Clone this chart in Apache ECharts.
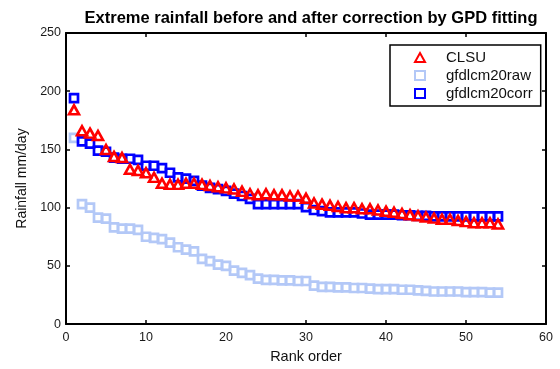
<!DOCTYPE html>
<html>
<head>
<meta charset="utf-8">
<script src="https://cdn.jsdelivr.net/npm/echarts@6/dist/echarts.min.js"></script>
<style>
  html, body { margin: 0; padding: 0; background: #fff; }
  #chart { width: 560px; height: 369px; }
</style>
</head>
<body>
<div id="chart"></div>
<script>
// Extreme daily rainfall, sorted by rank (1 = largest)
const ranks = Array.from({ length: 54 }, (_, i) => i + 1);

const clsu = [184, 166, 164, 162, 150, 144, 143, 133, 132, 130,
              126, 121, 120, 120, 121, 121, 120, 119, 118, 117,
              116, 114, 112, 111, 112, 111, 111, 110, 110, 108,
              104, 103, 102, 101, 100, 100, 99, 99, 98, 97,
              96, 95, 94, 93, 92, 91, 90, 90, 89, 88,
              87, 87, 87, 86];

const gfdlRaw = [160, 103, 100, 91.5, 90.5, 83, 82, 82, 81, 75,
                 74, 73, 70, 66, 64, 62.5, 56, 54, 51, 50,
                 46, 44, 42, 39, 38, 38, 37.5, 37.5, 37, 37,
                 33, 32, 32, 31.5, 31.5, 31, 31, 30.5, 30, 30,
                 30, 29.5, 29.5, 29, 28.5, 28, 28, 28, 28, 27.5,
                 27.5, 27.5, 27, 27];

const gfdlCorr = [194, 157, 155, 149, 148, 143, 142, 142, 141, 136,
                  136, 134, 130, 126, 125, 123, 119, 117, 116, 114.5,
                  112, 110, 107.5, 103, 103, 103, 103, 103, 103, 100.5,
                  98, 97, 96, 96, 96, 96, 95, 94, 94, 94,
                  94, 93.5, 93.5, 93, 93, 92.5, 92.5, 92.5, 92.5, 92.5,
                  92.5, 92.5, 92.5, 92.5];

const xTicks = [0, 10, 20, 30, 40, 50, 60];
const xTickMarks = [10, 30, 40, 50];
const yTicks = [0, 50, 100, 150, 200, 250];

const pairs = (ys) => ranks.map((r, i) => [r, ys[i]]);

const chart = echarts.init(document.getElementById('chart'), null, { renderer: 'canvas' });

const FONT = 'Liberation Sans, Arial, sans-serif';
const labelFont = { color: '#1a1a1a', fontSize: 12.5, fontFamily: FONT };
const frameLine = { show: true, onZero: false, lineStyle: { color: '#000', width: 2 } };
const inTick = { show: true, inside: true, length: 4, lineStyle: { color: '#000', width: 1.5 } };

chart.setOption({
  animation: false,
  backgroundColor: '#fff',
  title: {
    text: 'Extreme rainfall before and after correction by GPD fitting',
    left: 306,
    top: 5,
    textAlign: 'center',
    textStyle: { fontSize: 16.5, fontWeight: 'bold', color: '#000', fontFamily: FONT }
  },
  grid: { left: 66, right: 14, top: 33, bottom: 40, containLabel: false },
  legend: {
    orient: 'vertical',
    left: 390,
    top: 45,
    padding: [5, 8, 5, 24],
    itemGap: 3,
    itemWidth: 10,
    itemHeight: 9,
    backgroundColor: '#fff',
    borderColor: '#000',
    borderWidth: 1.5,
    borderRadius: 0,
    textStyle: { fontSize: 15, color: '#111', padding: [0, 0, 0, 16], fontFamily: FONT },
    data: ['CLSU', 'gfdlcm20raw', 'gfdlcm20corr']
  },
  xAxis: [{
    type: 'value', min: 0, max: 60, interval: 10,
    name: 'Rank order', nameLocation: 'middle', nameGap: 21,
    nameTextStyle: { fontSize: 14.5, color: '#111', fontFamily: FONT },
    axisLine: frameLine,
    axisTick: Object.assign({}, inTick, { customValues: xTickMarks }),
    axisLabel: Object.assign({}, labelFont, { margin: 7, customValues: xTicks }),
    splitLine: { show: false }
  }, {
    type: 'value', min: 0, max: 60, interval: 10, position: 'top',
    axisLine: frameLine,
    axisTick: Object.assign({}, inTick, { customValues: xTickMarks }),
    axisLabel: { show: false },
    splitLine: { show: false }
  }],
  yAxis: [{
    type: 'value', min: 0, max: 250, interval: 50,
    name: 'Rainfall mm/day', nameLocation: 'middle', nameGap: 24,
    nameTextStyle: { fontSize: 14, color: '#111', fontFamily: FONT },
    axisLine: frameLine,
    axisTick: inTick,
    axisLabel: Object.assign({}, labelFont, { margin: 5, customValues: yTicks }),
    splitLine: { show: false }
  }, {
    type: 'value', min: 0, max: 250, interval: 50, position: 'right',
    axisLine: frameLine,
    axisTick: inTick,
    axisLabel: { show: false },
    splitLine: { show: false }
  }],
  series: [{
    name: 'CLSU',
    type: 'scatter',
    symbol: 'triangle',
    symbolSize: [10, 9],
    itemStyle: { color: 'rgba(255,255,255,0)', borderColor: '#ff0000', borderWidth: 2.6, opacity: 1 },
    z: 3,
    data: pairs(clsu)
  }, {
    name: 'gfdlcm20raw',
    type: 'scatter',
    symbol: 'rect',
    symbolSize: 8,
    itemStyle: { color: 'rgba(255,255,255,0)', borderColor: '#b3c8f7', borderWidth: 2.7, opacity: 1 },
    z: 2,
    data: pairs(gfdlRaw)
  }, {
    name: 'gfdlcm20corr',
    type: 'scatter',
    symbol: 'rect',
    symbolSize: 8,
    itemStyle: { color: 'rgba(255,255,255,0)', borderColor: '#0000ff', borderWidth: 2.7, opacity: 1 },
    z: 2,
    data: pairs(gfdlCorr)
  }]
});
</script>
</body>
</html>
